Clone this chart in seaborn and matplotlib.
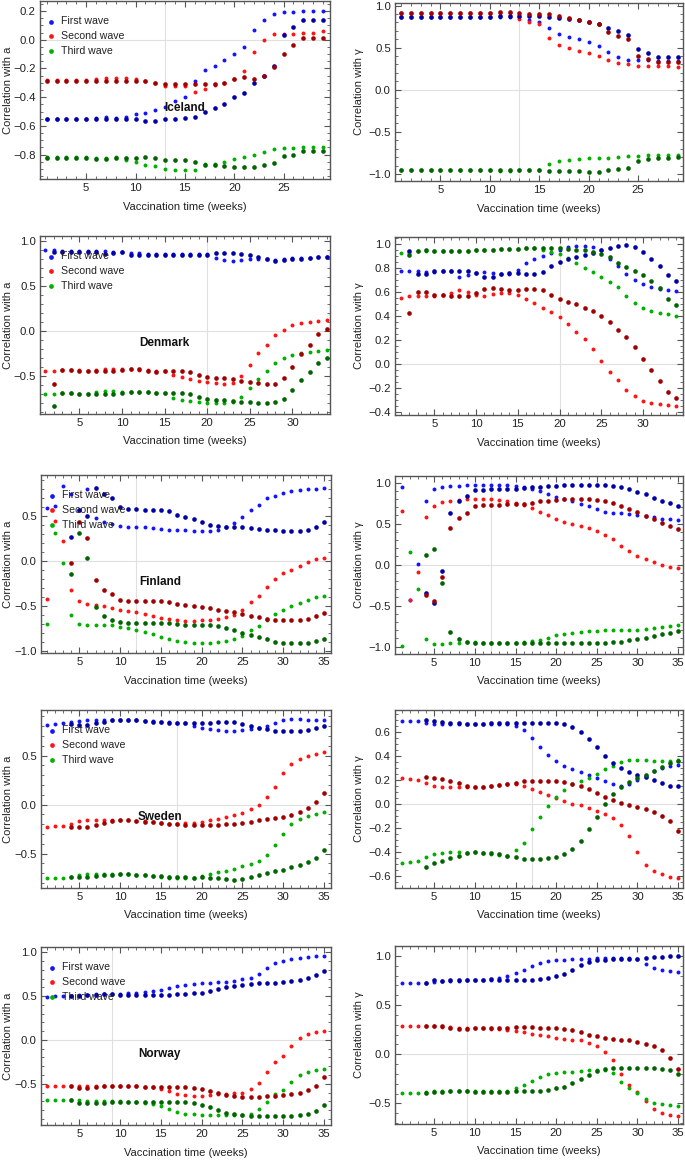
import matplotlib
matplotlib.use("Agg")
import matplotlib.pyplot as plt
import seaborn as sns
from matplotlib.ticker import MultipleLocator

sns.set_theme(style="white")
plt.rcParams["font.family"] = ["Liberation Sans", "DejaVu Sans"]

# ---------------- data ----------------
# light = small pure-colour dots (legend series), dk = darker dots
# Iceland, correlation with a (weeks 1..29)
ice_a_blue = [-0.55, -0.55, -0.55, -0.55, -0.55, -0.545, -0.54, -0.545, -0.535, -0.52, -0.51, -0.49, -0.47, -0.43,
              -0.40, -0.29, -0.21, -0.18, -0.14, -0.10, -0.05, 0.07, 0.14, 0.18, 0.19, 0.19, 0.20, 0.20, 0.20]
ice_a_blue_dk = [-0.55, -0.55, -0.55, -0.55, -0.55, -0.55, -0.55, -0.55, -0.55, -0.555, -0.565, -0.565, -0.555,
                 -0.555, -0.545, -0.535, -0.505, -0.475, -0.45, -0.40, -0.37, -0.30, -0.25, -0.18, 0.03, 0.09,
                 0.14, 0.14, 0.14]
ice_a_red = [-0.28, -0.28, -0.28, -0.28, -0.28, -0.27, -0.265, -0.265, -0.265, -0.275, -0.29, -0.30, -0.32, -0.325,
             -0.325, -0.365, -0.34, -0.315, -0.30, -0.275, -0.215, -0.085, 0.00, 0.04, 0.04, 0.04, 0.05, 0.05, 0.06]
ice_a_red_dk = [-0.285, -0.285, -0.285, -0.285, -0.285, -0.285, -0.285, -0.285, -0.285, -0.29, -0.29, -0.30, -0.31,
                -0.31, -0.305, -0.31, -0.31, -0.305, -0.30, -0.27, -0.26, -0.27, -0.25, -0.19, -0.10, -0.04, 0.01,
                0.01, 0.015]
ice_a_green = [-0.82, -0.82, -0.82, -0.82, -0.82, -0.825, -0.825, -0.82, -0.835, -0.85, -0.87, -0.88, -0.90, -0.91,
               -0.91, -0.905, -0.865, -0.865, -0.85, -0.83, -0.815, -0.80, -0.78, -0.76, -0.755, -0.755, -0.75,
               -0.75, -0.745]
ice_a_green_dk = [-0.825, -0.825, -0.825, -0.825, -0.825, -0.83, -0.83, -0.825, -0.825, -0.825, -0.815, -0.825,
                  -0.84, -0.84, -0.84, -0.85, -0.87, -0.875, -0.88, -0.885, -0.885, -0.885, -0.875, -0.86, -0.81,
                  -0.80, -0.775, -0.775, -0.775]

# Iceland, correlation with gamma
ice_g_blue = [0.86, 0.86, 0.86, 0.86, 0.86, 0.86, 0.86, 0.86, 0.86, 0.86, 0.86, 0.86, 0.86, 0.83, 0.81, 0.73,
              0.66, 0.63, 0.60, 0.57, 0.525, 0.445, 0.39, 0.355, 0.35, 0.35, 0.345, 0.34, 0.34]
ice_g_blue_dk = [0.86, 0.86, 0.86, 0.86, 0.86, 0.86, 0.86, 0.86, 0.86, 0.86, 0.87, 0.87, 0.87, 0.87, 0.87, 0.865,
                 0.855, 0.84, 0.825, 0.80, 0.78, 0.73, 0.70, 0.645, 0.48, 0.44, 0.39, 0.39, 0.39]
ice_g_red = [0.91, 0.91, 0.91, 0.91, 0.91, 0.91, 0.91, 0.91, 0.91, 0.91, 0.915, 0.91, 0.84, 0.80, 0.775, 0.615,
             0.53, 0.50, 0.465, 0.435, 0.405, 0.355, 0.32, 0.30, 0.285, 0.285, 0.28, 0.28, 0.275]
ice_g_red_dk = [0.91, 0.91, 0.91, 0.91, 0.91, 0.91, 0.91, 0.915, 0.91, 0.91, 0.92, 0.92, 0.91, 0.905, 0.90, 0.895,
                0.875, 0.85, 0.83, 0.80, 0.775, 0.69, 0.64, 0.60, 0.40, 0.365, 0.335, 0.335, 0.33]
ice_g_green = [-0.955, -0.955, -0.955, -0.955, -0.955, -0.955, -0.955, -0.955, -0.955, -0.955, -0.96, -0.965,
               -0.955, -0.955, -0.955, -0.88, -0.85, -0.835, -0.825, -0.815, -0.81, -0.805, -0.795, -0.79, -0.785,
               -0.78, -0.78, -0.78, -0.78]
ice_g_green_dk = [-0.955, -0.955, -0.955, -0.955, -0.955, -0.955, -0.955, -0.955, -0.955, -0.955, -0.95, -0.955,
                  -0.955, -0.955, -0.955, -0.96, -0.965, -0.97, -0.97, -0.975, -0.975, -0.955, -0.94, -0.93, -0.84,
                  -0.825, -0.81, -0.805, -0.80]

# Denmark, a (weeks 1..34, dark series from week 2)
den_a_blue = [0.90, 0.89, 0.88, 0.88, 0.88, 0.88, 0.88, 0.88, 0.87, 0.87, 0.865, 0.86, 0.855, 0.85, 0.85, 0.85,
              0.85, 0.85, 0.85, 0.85, 0.81, 0.78, 0.77, 0.78, 0.79, 0.80, 0.79, 0.78, 0.80, 0.81, 0.81, 0.81,
              0.82, 0.82]
den_a_blue_dk = [0.87, 0.87, 0.87, 0.875, 0.875, 0.87, 0.85, 0.86, 0.87, 0.84, 0.84, 0.84, 0.845, 0.845, 0.845,
                 0.84, 0.84, 0.845, 0.84, 0.86, 0.86, 0.86, 0.85, 0.84, 0.82, 0.79, 0.77, 0.78, 0.79, 0.80, 0.81,
                 0.82, 0.82]
den_a_red = [-0.44, -0.44, -0.43, -0.43, -0.435, -0.44, -0.43, -0.42, -0.42, -0.42, -0.425, -0.43, -0.43, -0.44,
             -0.445, -0.485, -0.51, -0.53, -0.55, -0.565, -0.58, -0.59, -0.575, -0.50, -0.38, -0.25, -0.16, -0.05,
             0.015, 0.06, 0.085, 0.10, 0.11, 0.12]
den_a_red_dk = [-0.585, -0.43, -0.43, -0.44, -0.44, -0.44, -0.44, -0.44, -0.435, -0.425, -0.425, -0.44, -0.46,
                -0.445, -0.445, -0.445, -0.455, -0.49, -0.515, -0.52, -0.52, -0.535, -0.55, -0.565, -0.58, -0.59,
                -0.585, -0.52, -0.40, -0.26, -0.16, -0.04, 0.025]
den_a_green = [-0.70, -0.70, -0.69, -0.69, -0.70, -0.70, -0.68, -0.66, -0.67, -0.68, -0.675, -0.675, -0.68, -0.69,
               -0.69, -0.74, -0.76, -0.78, -0.79, -0.795, -0.80, -0.80, -0.79, -0.73, -0.63, -0.53, -0.445, -0.355,
               -0.30, -0.265, -0.24, -0.23, -0.22, -0.215]
den_a_green_dk = [-0.83, -0.69, -0.69, -0.70, -0.70, -0.70, -0.70, -0.70, -0.69, -0.675, -0.675, -0.68, -0.69,
                  -0.69, -0.69, -0.69, -0.70, -0.73, -0.75, -0.76, -0.76, -0.78, -0.785, -0.79, -0.80, -0.80,
                  -0.79, -0.75, -0.65, -0.54, -0.45, -0.36, -0.30]

# Denmark, gamma
den_g_blue = [0.775, 0.775, 0.775, 0.77, 0.77, 0.775, 0.775, 0.73, 0.745, 0.76, 0.765, 0.76, 0.75, 0.755, 0.785,
              0.84, 0.875, 0.905, 0.93, 0.955, 0.975, 0.985, 0.985, 0.975, 0.95, 0.875, 0.82, 0.755, 0.70, 0.665,
              0.64, 0.63, 0.62, 0.61]
den_g_blue_dk = [0.945, 0.75, 0.755, 0.775, 0.775, 0.775, 0.78, 0.78, 0.76, 0.73, 0.73, 0.75, 0.76, 0.76, 0.75,
                 0.75, 0.765, 0.815, 0.855, 0.88, 0.89, 0.91, 0.93, 0.95, 0.97, 0.985, 0.99, 0.98, 0.935, 0.88,
                 0.82, 0.745, 0.69]
den_g_red = [0.555, 0.565, 0.57, 0.57, 0.57, 0.575, 0.595, 0.62, 0.605, 0.58, 0.57, 0.585, 0.595, 0.595, 0.58,
             0.545, 0.51, 0.47, 0.435, 0.39, 0.335, 0.265, 0.21, 0.125, 0.025, -0.065, -0.13, -0.215, -0.27,
             -0.31, -0.325, -0.335, -0.345, -0.35]
den_g_red_dk = [0.425, 0.60, 0.60, 0.58, 0.575, 0.565, 0.565, 0.565, 0.595, 0.63, 0.635, 0.625, 0.62, 0.62, 0.625,
                0.625, 0.615, 0.58, 0.545, 0.515, 0.50, 0.47, 0.445, 0.405, 0.35, 0.28, 0.225, 0.145, 0.045, -0.05,
                -0.14, -0.23, -0.28]
den_g_green = [0.93, 0.925, 0.94, 0.945, 0.945, 0.945, 0.945, 0.945, 0.945, 0.95, 0.955, 0.955, 0.96, 0.96, 0.96,
               0.965, 0.965, 0.955, 0.935, 0.915, 0.885, 0.84, 0.80, 0.765, 0.73, 0.685, 0.645, 0.57, 0.51, 0.465,
               0.44, 0.425, 0.415, 0.405]
den_g_green_dk = [0.91, 0.94, 0.95, 0.945, 0.945, 0.94, 0.94, 0.94, 0.95, 0.955, 0.955, 0.96, 0.96, 0.96, 0.965,
                  0.965, 0.965, 0.97, 0.965, 0.96, 0.955, 0.95, 0.935, 0.92, 0.89, 0.845, 0.81, 0.775, 0.74, 0.69,
                  0.635, 0.545, 0.49]

# Finland, a (weeks 1..35, dark series from week 4)
fin_a_blue = [0.58, 0.61, 0.83, 0.74, 0.56, 0.79, 0.47, 0.43, 0.41, 0.39, 0.38, 0.375, 0.37, 0.36, 0.35, 0.345,
              0.34, 0.34, 0.335, 0.325, 0.325, 0.34, 0.375, 0.42, 0.48, 0.565, 0.62, 0.69, 0.72, 0.75, 0.77, 0.78,
              0.795, 0.80, 0.81]
fin_a_blue_dk = [0.265, 0.56, 0.50, 0.81, 0.745, 0.69, 0.60, 0.57, 0.57, 0.565, 0.565, 0.565, 0.555, 0.51, 0.48,
                 0.465, 0.43, 0.40, 0.385, 0.375, 0.37, 0.37, 0.36, 0.35, 0.345, 0.34, 0.335, 0.335, 0.335, 0.345,
                 0.38, 0.435]
fin_a_red = [-0.42, 0.44, 0.22, -0.32, -0.45, -0.48, -0.49, -0.50, -0.52, -0.54, -0.555, -0.57, -0.59, -0.61,
             -0.63, -0.645, -0.66, -0.665, -0.665, -0.66, -0.65, -0.64, -0.62, -0.60, -0.54, -0.46, -0.39, -0.29,
             -0.205, -0.14, -0.10, -0.055, -0.015, 0.015, 0.035]
fin_a_red_dk = [-0.02, 0.43, 0.25, -0.215, -0.32, -0.37, -0.43, -0.445, -0.445, -0.445, -0.445, -0.445, -0.455,
                -0.475, -0.485, -0.495, -0.51, -0.525, -0.54, -0.555, -0.57, -0.585, -0.61, -0.625, -0.645, -0.655,
                -0.66, -0.66, -0.655, -0.645, -0.615, -0.575]
fin_a_green = [-0.70, 0.31, -0.02, -0.60, -0.70, -0.71, -0.71, -0.71, -0.715, -0.73, -0.745, -0.77, -0.79, -0.815,
               -0.845, -0.87, -0.89, -0.90, -0.905, -0.91, -0.905, -0.90, -0.89, -0.87, -0.83, -0.77, -0.72, -0.66,
               -0.59, -0.54, -0.50, -0.465, -0.43, -0.40, -0.385]
fin_a_green_dk = [-0.15, 0.31, 0.03, -0.51, -0.61, -0.65, -0.68, -0.685, -0.685, -0.685, -0.685, -0.69, -0.69,
                  -0.70, -0.705, -0.71, -0.715, -0.715, -0.725, -0.745, -0.77, -0.795, -0.82, -0.845, -0.87, -0.895,
                  -0.905, -0.91, -0.91, -0.905, -0.89, -0.86]

# Finland, gamma
fin_g_blue = [0.95, -0.43, 0.01, 0.78, 0.925, 0.95, 0.955, 0.96, 0.965, 0.97, 0.97, 0.97, 0.97, 0.965, 0.96, 0.95,
              0.925, 0.90, 0.865, 0.825, 0.80, 0.77, 0.74, 0.72, 0.68, 0.645, 0.63, 0.625, 0.615, 0.60, 0.59, 0.575,
              0.56, 0.55, 0.54]
fin_g_blue_dk = [-0.35, -0.47, -0.08, 0.635, 0.775, 0.835, 0.905, 0.915, 0.92, 0.92, 0.92, 0.925, 0.93, 0.94, 0.95,
                 0.955, 0.96, 0.965, 0.97, 0.97, 0.97, 0.97, 0.965, 0.955, 0.94, 0.92, 0.89, 0.855, 0.815, 0.78,
                 0.745, 0.715]
fin_g_red = [0.65, -0.43, -0.09, 0.575, 0.72, 0.76, 0.775, 0.79, 0.80, 0.80, 0.80, 0.795, 0.785, 0.77, 0.75, 0.725,
             0.685, 0.645, 0.60, 0.555, 0.52, 0.495, 0.465, 0.445, 0.41, 0.36, 0.31, 0.225, 0.16, 0.11, 0.07, 0.03,
             0.00, -0.025, -0.04]
fin_g_red_dk = [-0.37, -0.445, -0.155, 0.45, 0.57, 0.63, 0.71, 0.725, 0.73, 0.73, 0.735, 0.735, 0.74, 0.755, 0.77,
                0.775, 0.785, 0.795, 0.80, 0.80, 0.795, 0.785, 0.77, 0.75, 0.72, 0.68, 0.64, 0.59, 0.55, 0.51,
                0.47, 0.435]
fin_g_green = [-0.99, 0.15, -0.30, -0.91, -0.965, -0.965, -0.96, -0.95, -0.945, -0.945, -0.95, -0.955, -0.955,
               -0.955, -0.955, -0.945, -0.935, -0.915, -0.89, -0.86, -0.845, -0.83, -0.82, -0.81, -0.805, -0.80,
               -0.80, -0.80, -0.80, -0.795, -0.785, -0.77, -0.76, -0.745, -0.735]
fin_g_green_dk = [0.12, 0.19, -0.22, -0.825, -0.91, -0.945, -0.955, -0.96, -0.96, -0.96, -0.96, -0.96, -0.96,
                  -0.96, -0.96, -0.96, -0.955, -0.95, -0.95, -0.95, -0.95, -0.95, -0.95, -0.945, -0.94, -0.925,
                  -0.91, -0.89, -0.865, -0.845, -0.83, -0.815]

# Sweden, a
swe_a_blue = [0.81, 0.82, 0.83, 0.84, 0.855, 0.86, 0.86, 0.86, 0.865, 0.865, 0.865, 0.86, 0.855, 0.85, 0.845, 0.84,
              0.835, 0.83, 0.80, 0.78, 0.77, 0.76, 0.755, 0.755, 0.76, 0.77, 0.78, 0.80, 0.83, 0.86, 0.87, 0.87,
              0.865, 0.865, 0.86]
swe_a_blue_dk = [0.82, 0.815, 0.815, 0.83, 0.845, 0.86, 0.865, 0.865, 0.86, 0.855, 0.845, 0.84, 0.835, 0.83, 0.83,
                 0.83, 0.83, 0.835, 0.84, 0.84, 0.84, 0.825, 0.80, 0.78, 0.77, 0.755, 0.75, 0.75, 0.755, 0.765,
                 0.78, 0.80]
swe_a_red = [-0.225, -0.22, -0.215, -0.195, -0.17, -0.16, -0.155, -0.155, -0.155, -0.155, -0.155, -0.165, -0.17,
             -0.18, -0.19, -0.195, -0.195, -0.19, -0.185, -0.175, -0.16, -0.145, -0.13, -0.11, -0.085, -0.045,
             0.00, 0.075, 0.18, 0.32, 0.415, 0.465, 0.495, 0.515, 0.535]
swe_a_red_dk = [-0.23, -0.23, -0.225, -0.205, -0.19, -0.17, -0.16, -0.16, -0.165, -0.175, -0.18, -0.19, -0.195,
                -0.20, -0.205, -0.205, -0.205, -0.205, -0.205, -0.20, -0.20, -0.19, -0.18, -0.16, -0.15, -0.14,
                -0.125, -0.105, -0.075, -0.03, 0.03, 0.12]
swe_a_green = [-0.745, -0.745, -0.745, -0.735, -0.72, -0.71, -0.71, -0.705, -0.705, -0.705, -0.71, -0.715, -0.72,
               -0.725, -0.735, -0.745, -0.75, -0.75, -0.745, -0.73, -0.71, -0.69, -0.675, -0.655, -0.63, -0.605,
               -0.57, -0.51, -0.41, -0.30, -0.20, -0.145, -0.115, -0.09, -0.07]
swe_a_green_dk = [-0.735, -0.74, -0.74, -0.73, -0.72, -0.715, -0.71, -0.71, -0.715, -0.72, -0.725, -0.73, -0.735,
                  -0.74, -0.74, -0.745, -0.74, -0.745, -0.75, -0.76, -0.765, -0.76, -0.74, -0.72, -0.695, -0.68,
                  -0.665, -0.64, -0.62, -0.585, -0.545, -0.465]

# Sweden, gamma
swe_g_blue = [0.695, 0.69, 0.69, 0.675, 0.665, 0.665, 0.665, 0.67, 0.665, 0.665, 0.665, 0.665, 0.67, 0.67, 0.655,
              0.615, 0.55, 0.475, 0.41, 0.36, 0.32, 0.29, 0.265, 0.24, 0.215, 0.19, 0.165, 0.15, 0.165, 0.20,
              0.235, 0.275, 0.305, 0.32, 0.33]
swe_g_blue_dk = [0.705, 0.69, 0.685, 0.675, 0.675, 0.665, 0.67, 0.67, 0.675, 0.675, 0.675, 0.68, 0.68, 0.68, 0.68,
                 0.68, 0.675, 0.665, 0.64, 0.60, 0.545, 0.475, 0.40, 0.345, 0.30, 0.27, 0.245, 0.225, 0.20, 0.18,
                 0.155, 0.155]
swe_g_red = [0.215, 0.21, 0.205, 0.18, 0.155, 0.145, 0.14, 0.14, 0.14, 0.14, 0.14, 0.15, 0.16, 0.165, 0.165, 0.15,
             0.125, 0.10, 0.075, 0.05, 0.025, 0.005, -0.01, -0.03, -0.055, -0.08, -0.115, -0.17, -0.27, -0.40,
             -0.505, -0.56, -0.585, -0.605, -0.62]
swe_g_red_dk = [0.225, 0.215, 0.21, 0.19, 0.175, 0.155, 0.145, 0.145, 0.15, 0.16, 0.17, 0.18, 0.19, 0.19, 0.19,
                0.19, 0.19, 0.185, 0.17, 0.155, 0.125, 0.095, 0.06, 0.035, 0.01, -0.005, -0.02, -0.04, -0.065,
                -0.095, -0.14, -0.22]
swe_g_green = [-0.495, -0.48, -0.475, -0.445, -0.415, -0.405, -0.40, -0.40, -0.405, -0.40, -0.405, -0.42, -0.425,
               -0.43, -0.385, -0.325, -0.21, -0.105, -0.015, 0.06, 0.115, 0.165, 0.19, 0.22, 0.255, 0.29, 0.32,
               0.35, 0.365, 0.37, 0.365, 0.36, 0.36, 0.36, 0.365]
swe_g_green_dk = [-0.525, -0.49, -0.475, -0.45, -0.435, -0.41, -0.40, -0.405, -0.41, -0.42, -0.43, -0.445, -0.455,
                  -0.455, -0.455, -0.45, -0.445, -0.42, -0.375, -0.305, -0.21, -0.105, 0.005, 0.085, 0.145, 0.185,
                  0.215, 0.24, 0.275, 0.31, 0.34, 0.36]

# Norway, a
nor_a_blue = [0.495, 0.50, 0.50, 0.505, 0.51, 0.515, 0.52, 0.525, 0.525, 0.525, 0.53, 0.535, 0.545, 0.555, 0.57,
              0.59, 0.61, 0.625, 0.635, 0.645, 0.655, 0.66, 0.665, 0.675, 0.69, 0.71, 0.75, 0.82, 0.875, 0.90,
              0.925, 0.94, 0.95, 0.955, 0.955]
nor_a_blue_dk = [0.50, 0.505, 0.51, 0.515, 0.52, 0.52, 0.515, 0.515, 0.515, 0.515, 0.515, 0.515, 0.515, 0.52, 0.52,
                 0.53, 0.54, 0.56, 0.58, 0.60, 0.615, 0.63, 0.64, 0.65, 0.65, 0.655, 0.665, 0.675, 0.685, 0.705,
                 0.735, 0.79]
nor_a_red = [-0.52, -0.52, -0.52, -0.52, -0.525, -0.525, -0.53, -0.53, -0.53, -0.53, -0.53, -0.53, -0.535, -0.54,
             -0.555, -0.585, -0.615, -0.63, -0.635, -0.635, -0.63, -0.62, -0.615, -0.61, -0.60, -0.565, -0.495,
             -0.37, -0.255, -0.18, -0.07, 0.02, 0.07, 0.09, 0.105]
nor_a_red_dk = [-0.52, -0.545, -0.545, -0.535, -0.53, -0.53, -0.53, -0.53, -0.53, -0.535, -0.535, -0.535, -0.54,
                -0.54, -0.54, -0.55, -0.565, -0.58, -0.60, -0.625, -0.64, -0.65, -0.65, -0.645, -0.64, -0.635,
                -0.63, -0.62, -0.61, -0.575, -0.52, -0.425]
nor_a_green = [-0.685, -0.685, -0.685, -0.685, -0.69, -0.695, -0.70, -0.70, -0.70, -0.70, -0.705, -0.705, -0.715,
               -0.735, -0.755, -0.79, -0.82, -0.84, -0.85, -0.855, -0.855, -0.855, -0.855, -0.855, -0.855, -0.84,
               -0.79, -0.71, -0.62, -0.57, -0.475, -0.40, -0.365, -0.345, -0.33]
nor_a_green_dk = [-0.685, -0.715, -0.715, -0.715, -0.715, -0.705, -0.705, -0.705, -0.71, -0.71, -0.71, -0.71, -0.71,
                  -0.71, -0.71, -0.72, -0.745, -0.77, -0.80, -0.83, -0.845, -0.86, -0.865, -0.87, -0.87, -0.87,
                  -0.87, -0.865, -0.855, -0.84, -0.805, -0.745]

# Norway, gamma
nor_g_blue = [0.72, 0.72, 0.72, 0.72, 0.73, 0.74, 0.745, 0.745, 0.75, 0.75, 0.75, 0.755, 0.77, 0.80, 0.825, 0.86,
              0.90, 0.925, 0.945, 0.955, 0.96, 0.965, 0.965, 0.97, 0.975, 0.98, 0.98, 0.98, 0.975, 0.965, 0.92,
              0.88, 0.86, 0.845, 0.835]
nor_g_blue_dk = [0.72, 0.75, 0.745, 0.755, 0.755, 0.755, 0.75, 0.755, 0.76, 0.755, 0.755, 0.755, 0.755, 0.755, 0.76,
                 0.77, 0.80, 0.82, 0.86, 0.905, 0.935, 0.955, 0.96, 0.965, 0.97, 0.97, 0.97, 0.975, 0.985, 0.99,
                 0.995, 0.995]
nor_g_red = [0.29, 0.29, 0.29, 0.29, 0.285, 0.28, 0.275, 0.27, 0.27, 0.27, 0.265, 0.26, 0.255, 0.25, 0.24, 0.225,
             0.21, 0.195, 0.18, 0.16, 0.15, 0.145, 0.14, 0.11, 0.08, 0.025, -0.06, -0.20, -0.315, -0.385, -0.475,
             -0.56, -0.60, -0.62, -0.63]
nor_g_red_dk = [0.29, 0.285, 0.285, 0.265, 0.26, 0.26, 0.27, 0.27, 0.27, 0.27, 0.27, 0.275, 0.275, 0.275, 0.27,
                0.27, 0.265, 0.255, 0.245, 0.225, 0.20, 0.18, 0.16, 0.15, 0.145, 0.14, 0.12, 0.105, 0.085, 0.04,
                -0.035, -0.155]
nor_g_green = [-0.39, -0.39, -0.39, -0.385, -0.37, -0.37, -0.37, -0.37, -0.375, -0.375, -0.375, -0.375, -0.375,
               -0.37, -0.345, -0.31, -0.27, -0.235, -0.205, -0.195, -0.185, -0.18, -0.175, -0.165, -0.16, -0.16,
               -0.195, -0.28, -0.345, -0.39, -0.455, -0.495, -0.51, -0.52, -0.525]
nor_g_green_dk = [-0.39, -0.38, -0.38, -0.375, -0.375, -0.375, -0.38, -0.38, -0.38, -0.38, -0.38, -0.375, -0.375,
                  -0.375, -0.37, -0.36, -0.345, -0.33, -0.295, -0.255, -0.21, -0.175, -0.155, -0.145, -0.145,
                  -0.145, -0.14, -0.14, -0.145, -0.15, -0.165, -0.20]

countries = ["Iceland", "Denmark", "Finland", "Sweden", "Norway"]
dark_start = [1, 2, 4, 4, 4]          # first week of the darker series
grid_week = [13, 20, 12, 17, 9]       # faint vertical grid line
wave_labels = ["First wave", "Second wave", "Third wave"]

a_series = [
    [ice_a_blue, ice_a_red, ice_a_green, ice_a_blue_dk, ice_a_red_dk, ice_a_green_dk],
    [den_a_blue, den_a_red, den_a_green, den_a_blue_dk, den_a_red_dk, den_a_green_dk],
    [fin_a_blue, fin_a_red, fin_a_green, fin_a_blue_dk, fin_a_red_dk, fin_a_green_dk],
    [swe_a_blue, swe_a_red, swe_a_green, swe_a_blue_dk, swe_a_red_dk, swe_a_green_dk],
    [nor_a_blue, nor_a_red, nor_a_green, nor_a_blue_dk, nor_a_red_dk, nor_a_green_dk],
]
g_series = [
    [ice_g_blue, ice_g_red, ice_g_green, ice_g_blue_dk, ice_g_red_dk, ice_g_green_dk],
    [den_g_blue, den_g_red, den_g_green, den_g_blue_dk, den_g_red_dk, den_g_green_dk],
    [fin_g_blue, fin_g_red, fin_g_green, fin_g_blue_dk, fin_g_red_dk, fin_g_green_dk],
    [swe_g_blue, swe_g_red, swe_g_green, swe_g_blue_dk, swe_g_red_dk, swe_g_green_dk],
    [nor_g_blue, nor_g_red, nor_g_green, nor_g_blue_dk, nor_g_red_dk, nor_g_green_dk],
]

# ---------------- layout ----------------
light_cols = ["#1414ff", "#ff1414", "#00b000"]
dark_cols = ["#0000a8", "#a00000", "#006400"]

W, H = 685, 1160
fig = plt.figure(figsize=(W / 100, H / 100), dpi=100)

left_box = [(40, 1), (40, 236), (41, 475), (41, 710), (41, 947)]
right_box = [(395, 3), (395, 237), (395, 476), (395, 710), (395, 946)]
ax_h = 178
left_w, right_w = 290, 288

a_ylim = [(-0.97, 0.27), (-0.92, 1.05), (-1.02, 0.95), (-0.85, 0.966), (-0.97, 1.06)]
g_ylim = [(-1.083, 1.03), (-0.425, 1.06), (-1.09, 1.08), (-0.70, 0.786), (-0.71, 1.10)]
a_ystep = [0.2, 0.5, 0.5, 0.5, 0.5]
g_ystep = [0.5, 0.2, 0.5, 0.2, 0.5]
a_xlim = [(0.32, 29.7), (0.38, 34.4), (0.31, 35.85), (0.31, 35.85), (0.31, 35.85)]
g_xlim = [(0.4, 29.55), (0.28, 34.8), (0.18, 35.6), (0.18, 35.6), (0.18, 35.6)]
label_x = [0.5, 0.43, 0.41, 0.41, 0.41]

frame_col = "#555555"
text_col = "#222222"


def style_axes(ax, xlim, ylim, ystep, gx):
    ax.set_xlim(*xlim)
    ax.set_ylim(*ylim)
    ax.axvline(gx, color="#e0e0e0", lw=0.8, zorder=0)
    ax.axhline(0, color="#e0e0e0", lw=0.8, zorder=0)
    ax.xaxis.set_major_locator(MultipleLocator(5))
    ax.xaxis.set_minor_locator(MultipleLocator(1))
    ax.yaxis.set_major_locator(MultipleLocator(ystep))
    ax.yaxis.set_minor_locator(MultipleLocator(ystep / 4 if ystep == 0.2 else 0.1))
    ax.tick_params(which="both", direction="in", top=True, right=True, bottom=True, left=True,
                   color=frame_col, labelsize=8.2, labelcolor=text_col, pad=3)
    ax.tick_params(which="major", length=4, width=0.8)
    ax.tick_params(which="minor", length=2, width=0.6)
    ax.yaxis.set_major_formatter(plt.FuncFormatter(lambda v, p: f"{v:.1f}".replace("-", "\u2212")))
    for sp in ax.spines.values():
        sp.set_color(frame_col)
        sp.set_linewidth(1.0)
    ax.set_xlabel("Vaccination time (weeks)", fontsize=8, color=text_col, labelpad=6)
    ax.grid(False)


def draw_panel(ax, series, start_dk, with_legend):
    for k in range(3):
        light = series[k]
        sns.scatterplot(x=list(range(1, len(light) + 1)), y=light, ax=ax, color=light_cols[k], s=8,
                        linewidth=0, label=wave_labels[k] if with_legend else None, zorder=3)
    for k in range(3):
        dark = series[3 + k]
        sns.scatterplot(x=list(range(start_dk, start_dk + len(dark))), y=dark, ax=ax, color=dark_cols[k],
                        s=11, linewidth=0, zorder=4)


for i, name in enumerate(countries):
    lx, ly = left_box[i]
    ax = fig.add_axes([lx / W, 1 - (ly + ax_h) / H, left_w / W, ax_h / H])
    draw_panel(ax, a_series[i], dark_start[i], True)
    style_axes(ax, a_xlim[i], a_ylim[i], a_ystep[i], grid_week[i])
    ax.set_ylabel("Correlation with a", fontsize=8, color=text_col)
    # ylabel anchor is the right side of the rotated text
    ax.yaxis.set_label_coords((13 - lx) / left_w, 0.5)
    ax.text(label_x[i], 0.40, name, transform=ax.transAxes, ha="center", va="center",
            fontsize=8.5, fontweight="bold", color="#111111", zorder=6)
    leg = ax.legend(loc="upper left", bbox_to_anchor=(0.0, 0.955), frameon=False, fontsize=7.6,
                    handlelength=0.6, handletextpad=0.7, labelspacing=0.45, borderaxespad=0.3,
                    markerscale=1.2)
    for t in leg.get_texts():
        t.set_color(text_col)
    leg.set_zorder(5)

    rx, ry = right_box[i]
    ax2 = fig.add_axes([rx / W, 1 - (ry + ax_h) / H, right_w / W, ax_h / H])
    draw_panel(ax2, g_series[i], dark_start[i], False)
    style_axes(ax2, g_xlim[i], g_ylim[i], g_ystep[i], grid_week[i])
    ax2.set_ylabel("Correlation with \u03b3", fontsize=8, color=text_col)
    ax2.yaxis.set_label_coords((364 - rx) / right_w, 0.5)
    if ax2.get_legend() is not None:
        ax2.get_legend().remove()

fig.savefig("out.png", dpi=100)
